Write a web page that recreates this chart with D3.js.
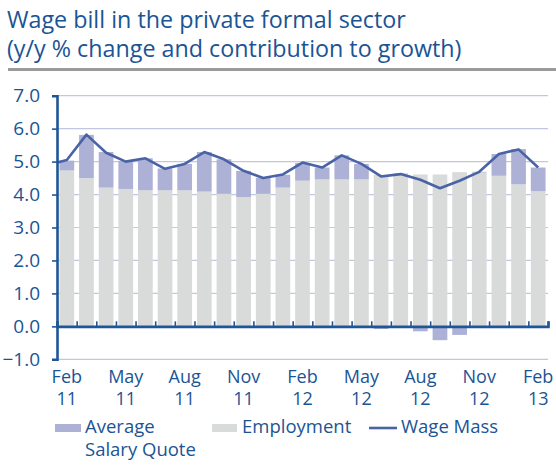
<!DOCTYPE html>
<html>
<head>
<meta charset="utf-8">
<script src="https://cdn.jsdelivr.net/npm/d3@7"></script>
<style>
  html, body { margin: 0; padding: 0; background: #fff; }
  svg { display: block; font-family: "Open Sans", "Noto Sans", sans-serif; }
</style>
</head>
<body>
<svg id="chart" width="556" height="465"></svg>
<script>
// Monthly categories (Feb 2011 – Feb 2013)
const months = ["Feb 11","Mar 11","Apr 11","May 11","Jun 11","Jul 11","Aug 11","Sep 11","Oct 11","Nov 11","Dec 11",
                "Jan 12","Feb 12","Mar 12","Apr 12","May 12","Jun 12","Jul 12","Aug 12","Sep 12","Oct 12","Nov 12","Dec 12",
                "Jan 13","Feb 13"];
// Contribution of employment growth (pp)
const employment = [4.73,4.50,4.21,4.17,4.13,4.13,4.13,4.09,4.02,3.92,4.02,4.21,4.42,4.46,4.46,4.46,4.60,4.65,4.61,4.61,4.68,4.67,4.57,4.31,4.10];
// Contribution of average salary growth (pp)
const salary = [0.30,1.31,1.08,0.85,0.97,0.66,0.80,1.20,1.05,0.80,0.49,0.39,0.54,0.36,0.73,0.47,-0.08,-0.05,-0.15,-0.42,-0.26,0.02,0.66,1.07,0.72];
// Wage mass, y/y % change (series begins one month before the first bar)
const wageMassPrev = {month: "Jan 11", value: 4.89};
const wageMass = [5.05,5.82,5.27,5.00,5.10,4.78,4.93,5.29,5.07,4.72,4.50,4.61,4.97,4.82,5.19,4.93,4.55,4.62,4.45,4.19,4.42,4.69,5.23,5.37,4.82];
// Axis labels
const yTicks = [-1,0,1,2,3,4,5,6,7];
const xLabelMonths = ["Feb 11","May 11","Aug 11","Nov 11","Feb 12","May 12","Aug 12","Nov 12","Feb 13"];

const textBlue = "#1b5494";
const axisBlue = "#1f5698";
const gridCol = "#c3c6e0";
const grayCol = "#d9dbda";
const salaryCol = "#adb1d5";
const lineCol = "#4a62a6";

const svg = d3.select("#chart");

// Title
const title = svg.append("text").attr("fill", textBlue).style("font-size", "23.3px");
title.append("tspan").attr("x", 7).attr("y", 28).text("Wage bill in the private formal sector");
title.append("tspan").attr("x", 7).attr("y", 57).text("(y/y % change and contribution to growth)");
svg.append("line").attr("x1", 8).attr("x2", 556).attr("y1", 69.5).attr("y2", 69.5)
  .attr("stroke", "#9a9a9a").attr("stroke-width", 3);

const plotL = 57, plotR = 548, plotT = 95.7, plotB = 359.3;

const x = d3.scaleBand().domain(months).range([plotL, plotR]).paddingInner(0.25).paddingOuter(0.125);
const y = d3.scaleLinear().domain([-1, 7]).range([plotB, plotT]);
const step = x.step();
const cx = m => x(m) + x.bandwidth() / 2;

// Gridlines
svg.append("g").selectAll("line").data(yTicks.filter(t => t !== 0)).join("line")
  .attr("x1", plotL).attr("x2", plotR)
  .attr("y1", d => y(d)).attr("y2", d => y(d))
  .attr("stroke", gridCol).attr("stroke-width", 1.2);

// Stacked bars: employment from zero, salary stacked above (or below zero when negative)
const bars = svg.append("g");
bars.selectAll("rect.emp").data(months).join("rect").attr("class", "emp")
  .attr("x", d => x(d)).attr("width", x.bandwidth())
  .attr("y", (d, i) => y(employment[i])).attr("height", (d, i) => y(0) - y(employment[i]))
  .attr("fill", grayCol);
bars.selectAll("rect.sal").data(months).join("rect").attr("class", "sal")
  .attr("x", d => x(d)).attr("width", x.bandwidth())
  .attr("y", (d, i) => salary[i] >= 0 ? y(employment[i] + salary[i]) : y(0))
  .attr("height", (d, i) => Math.abs(y(0) - y(salary[i])))
  .attr("fill", salaryCol);

// Wage mass line, clipped to the plot area
svg.append("clipPath").attr("id", "plotClip").append("rect")
  .attr("x", plotL).attr("y", plotT - 10).attr("width", plotR - plotL).attr("height", plotB - plotT + 20);
const linePts = [{xv: cx(months[0]) - step, v: wageMassPrev.value}]
  .concat(months.map((m, i) => ({xv: cx(m), v: wageMass[i]})));
svg.append("path").datum(linePts)
  .attr("clip-path", "url(#plotClip)")
  .attr("d", d3.line().x(d => d.xv).y(d => y(d.v)))
  .attr("fill", "none").attr("stroke", lineCol).attr("stroke-width", 2.6).attr("stroke-linejoin", "round");

// Zero line with category tick marks
const zeroAxis = d3.axisTop(d3.scaleLinear().domain([0, months.length]).range([plotL, plotR]))
  .tickValues(d3.range(0, months.length + 1)).tickSize(5).tickFormat("");
const zg = svg.append("g").attr("transform", `translate(0,${y(0)})`).call(zeroAxis);
zg.select(".domain").attr("stroke", axisBlue).attr("stroke-width", 2.6);
zg.selectAll(".tick line").attr("stroke", axisBlue).attr("stroke-width", 1.6);

// Y axis
const yAxis = d3.axisLeft(y).tickValues(yTicks).tickSize(5).tickFormat(d3.format(".1f"));
const yg = svg.append("g").attr("transform", `translate(${plotL},0)`).call(yAxis);
yg.select(".domain").attr("stroke", axisBlue).attr("stroke-width", 2.6);
yg.selectAll(".tick line").attr("stroke", axisBlue).attr("stroke-width", 1.6);
yg.selectAll(".tick text").attr("x", -17).attr("fill", textBlue)
  .style("font-size", "19px").style("font-family", "'Open Sans', sans-serif");

// X labels (two lines: month, year)
const xl = svg.append("g").selectAll("text").data(xLabelMonths).join("text")
  .attr("text-anchor", "middle").attr("fill", textBlue).style("font-size", "18px");
xl.append("tspan").attr("x", d => cx(d)).attr("y", 383).text(d => d.split(" ")[0]);
xl.append("tspan").attr("x", d => cx(d)).attr("y", 405).text(d => d.split(" ")[1]);

// Legend
const lg = svg.append("g").style("font-size", "18.5px").attr("fill", textBlue);
lg.append("rect").attr("x", 55).attr("y", 424).attr("width", 26).attr("height", 8).attr("fill", salaryCol);
const t1 = lg.append("text").attr("fill", textBlue);
t1.append("tspan").attr("x", 85).attr("y", 433).text("Average");
t1.append("tspan").attr("x", 85).attr("y", 456).text("Salary Quote");
lg.append("rect").attr("x", 212).attr("y", 424).attr("width", 25).attr("height", 8).attr("fill", grayCol);
lg.append("text").attr("x", 242).attr("y", 433).attr("fill", textBlue).text("Employment");
lg.append("line").attr("x1", 369).attr("x2", 397).attr("y1", 428).attr("y2", 428)
  .attr("stroke", lineCol).attr("stroke-width", 2.6);
lg.append("text").attr("x", 401).attr("y", 433).attr("fill", textBlue).text("Wage Mass");
</script>
</body>
</html>
